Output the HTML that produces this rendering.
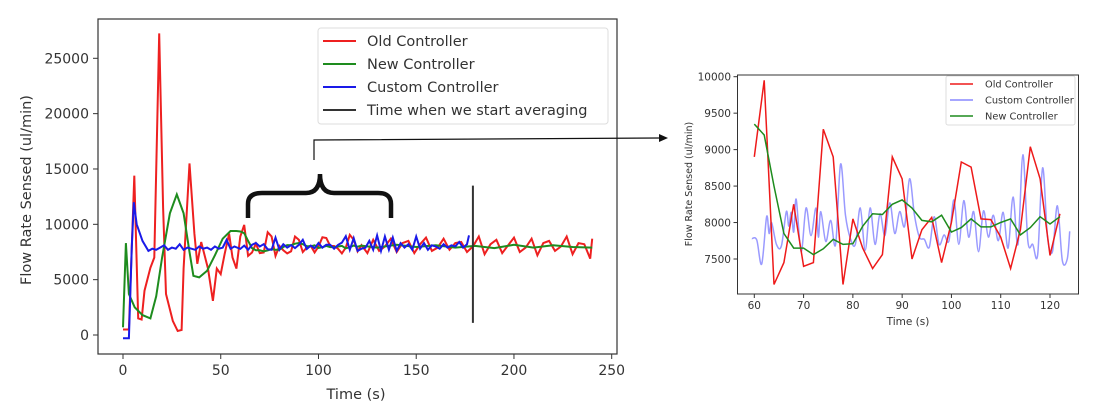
<!DOCTYPE html>
<html><head><meta charset="utf-8"><style>
html,body{margin:0;padding:0;background:#fff;width:1098px;height:413px;overflow:hidden}
svg{display:block;font-family:"DejaVu Sans","Liberation Sans",sans-serif}
</style></head><body>
<svg id="s" width="1098" height="413"></svg>
<script>
// ---- data: left chart ----
const oldT=[0,3,5.8,7.8,9.5,11,14,16,18.5,20.5,22,25.5,28,30,31,34,36.5,38,40,43.5,46,48,50,52,54.3,56,58,60,62,64,66,68,70,72,74,76,78,80,82,84,86,88,90,92,94,96,98,100,102,104,106,108,110,112,114,116,118,120,122,125,128,131,134,137,140,143,146,149,152,155,158,161,164,167,170,173,176,179,182,185,188,191,194,197,200,203,206,209,212,215,218,221,224,227,230,233,236,239,240];
const oldV=[500,500,14400,1500,1400,4000,6070,7000,27250,11500,3700,1270,360,450,6000,15500,9150,6430,8400,6000,3080,6000,5500,7300,9150,7000,6000,8900,9950,7150,7450,8250,7400,7450,9280,8900,7150,8050,7650,7370,7560,8900,8600,7500,7900,8070,7450,8000,8830,8760,8050,8040,7800,7370,7900,9040,8600,7550,8120,7400,8600,7600,8000,8700,7500,8300,8500,7400,8200,8800,7600,7900,8700,7700,8300,8400,7500,8000,8900,7300,8200,8600,7400,8100,8800,7500,7900,8700,7200,8300,8500,7600,8000,8900,7300,8300,8200,6900,8700];
const newT=[0,1.5,3,6,10,14,17,20,24,27.5,31,34,36,39,43,47,51,55,58,60,62,64,66,68,70,72,74,76,78,80,82,84,86,88,90,92,94,96,98,100,102,104,106,108,110,112,114,116,118,120,122,130,140,150,160,170,180,190,200,210,220,230,240];
const newV=[700,8300,3700,2500,1800,1500,3500,7000,11000,12700,11000,7500,5350,5200,5800,7200,8700,9400,9400,9350,9200,8500,7850,7650,7650,7560,7640,7770,7700,7710,7950,8120,8110,8250,8310,8200,8030,8010,8100,7870,7930,8050,7940,7940,8000,8050,7830,7930,8080,7980,8080,7900,8150,7950,8100,7900,8050,7850,8150,7900,8100,7950,7900];
const custT=[0,3,4.5,5.5,7,10,13,15,17,19,21,23,25,27,29,31,33,35,37,39,41,43,45,47,49,51,53,55,57,60,62,64,66,68,70,72,74,76,78,80,82,84,86,88,90,92,94,96,98,100,102,104,106,108,110,112,114,116,118,120,122,124,126,128,130,132,134,136,138,140,142,144,146,148,150,152,154,156,158,160,162,164,166,168,170,172,174,176,177];
const custV=[-300,-300,8000,12000,10000,8500,7600,7800,7700,7900,8100,7700,7900,7800,8200,7700,7900,7800,7700,8000,7800,7900,7700,8000,7800,7900,8600,7800,8000,7780,8080,7700,8150,8320,8000,8200,7740,7700,8800,7700,8200,7900,8120,7850,8150,8600,7770,8080,7830,8310,7900,8150,8160,7800,8140,8350,8930,7700,8750,7600,7800,7880,8500,7700,9000,7600,8900,7700,8800,7600,8300,7900,8200,7700,8900,7800,8300,7700,8100,8000,7800,8200,7900,8100,8000,8400,7900,8200,9000];
const leftXTicks=[0,50,100,150,200,250];
const leftYTicks=[0,5000,10000,15000,20000,25000];
// ---- data: right (zoom) chart ----
const zT=[60,62,64,66,68,70,72,74,76,78,80,82,84,86,88,90,92,94,96,98,100,102,104,106,108,110,112,114,116,118,120,122];
const zOld=[8900,9950,7150,7450,8250,7400,7450,9280,8900,7150,8050,7650,7370,7560,8900,8600,7500,7900,8070,7450,8000,8830,8760,8050,8040,7800,7370,7900,9040,8600,7550,8120];
const zNew=[9350,9200,8500,7850,7650,7650,7560,7640,7770,7700,7710,7950,8120,8110,8250,8310,8200,8030,8010,8100,7870,7930,8050,7940,7940,8000,8050,7830,7930,8080,7980,8080];
const zCustT=[59.5,60.5,61.5,62.5,63,63.5,64.5,65.5,66.5,67,67.5,68,68.5,69.5,70.5,71.5,72.5,73,73.5,74.5,75.5,76.5,77.5,78.5,79.5,80.5,81.5,82.5,83.5,84.5,85.5,86.5,87.5,88.5,89.5,90.5,91.5,92.5,93.5,94.5,95.5,96.5,97.5,98.5,99.5,100.5,101.5,102.5,103.5,104.5,105.5,106.5,107.5,108.5,109.5,110.5,111.5,112.5,113.5,114.5,115.5,116.5,117.5,118.5,119.5,120.5,121.5,122.5,123.5,124];
const zCustV=[7780,7760,7430,8080,7850,8000,7700,7680,8150,7950,8140,7870,8320,7600,8200,7820,8200,7800,8150,7740,8030,7700,8800,8100,7780,7700,8200,7620,8200,7700,8120,7820,8270,7850,8150,7950,8600,8100,7800,7770,7660,8080,7700,7830,7750,8310,7700,8300,7800,8150,7600,8160,7800,8100,7750,8140,7650,8350,7700,8930,7750,7700,7560,8750,7800,7600,8230,7480,7500,7880];
const zXTicks=[60,70,80,90,100,110,120];
const zYTicks=[7500,8000,8500,9000,9500,10000];

const NS='http://www.w3.org/2000/svg';const s=document.getElementById('s');
function mk(tag,at,parent){const e=document.createElementNS(NS,tag);for(const k in at)e.setAttribute(k,at[k]);(parent||s).appendChild(e);return e;}
function txt(str,at,parent){const e=mk('text',at,parent);e.textContent=str;return e;}
function poly(T,V,fx,fy){return T.map((t,i)=>fx(t).toFixed(1)+','+fy(V[i]).toFixed(1)).join(' ');}
function smooth(T,V,fx,fy){const p=T.map((t,i)=>[fx(t),fy(V[i])]);let d='M'+p[0][0]+','+p[0][1];for(let i=0;i<p.length-1;i++){const p0=p[i-1]||p[i],p1=p[i],p2=p[i+1],p3=p[i+2]||p2;d+=' C'+(p1[0]+(p2[0]-p0[0])/6)+','+(p1[1]+(p2[1]-p0[1])/6)+' '+(p2[0]-(p3[0]-p1[0])/6)+','+(p2[1]-(p3[1]-p1[1])/6)+' '+p2[0]+','+p2[1];}return d;}

// left axes
const lx=t=>123+t*(611.7-123)/250, ly=v=>335-v*(335-58.3)/25000;
const L=mk('g',{});

mk('rect',{x:98,y:19,width:519,height:335,fill:'none',stroke:'#333','stroke-width':1.2},L);
leftXTicks.forEach(t=>{const g=mk('g',{},L);mk('line',{x1:lx(t),x2:lx(t),y1:354,y2:359,stroke:'#333'},g);txt(t,{x:lx(t),y:375,'text-anchor':'middle','font-size':14,fill:'#333'},g);});
leftYTicks.forEach(v=>{const g=mk('g',{},L);mk('line',{x1:93,x2:98,y1:ly(v),y2:ly(v),stroke:'#333'},g);txt(v,{x:89,y:ly(v)+5,'text-anchor':'end','font-size':14,fill:'#333'},g);});
let e=txt('Time (s)',{x:356,y:399,'text-anchor':'middle','font-size':14.5,fill:'#333'},L);
e=txt('Flow Rate Sensed (ul/min)',{x:0,y:0,transform:'translate(31,190) rotate(-90)','text-anchor':'middle','font-size':14.5,fill:'#333'},L);
e=mk('polyline',{points:poly(oldT,oldV,lx,ly),fill:'none',stroke:'#ee2020','stroke-width':2},L);
e=mk('polyline',{points:poly(newT,newV,lx,ly),fill:'none',stroke:'#1e8c1e','stroke-width':2},L);
e=mk('polyline',{points:poly(custT,custV,lx,ly),fill:'none',stroke:'#1a1ae8','stroke-width':2},L);
e=mk('line',{x1:lx(179),x2:lx(179),y1:ly(13500),y2:ly(1100),stroke:'#333','stroke-width':2},L);
// legend
const lg=mk('g',{},L);
mk('rect',{x:318,y:28,width:290,height:96,fill:'#fff','fill-opacity':0.85,stroke:'#ddd',rx:3},lg);
[['Old Controller','#ee2020'],['New Controller','#1e8c1e'],['Custom Controller','#1a1ae8'],['Time when we start averaging','#333']].forEach((d,i)=>{const y=41+i*23;mk('line',{x1:323,x2:356,y1:y,y2:y,stroke:d[1],'stroke-width':2},lg);txt(d[0],{x:367,y:y+5,'font-size':14.5,fill:'#333'},lg);});
// brace + arrow
e=mk('path',{d:'M248,218 L248,204 Q248,193 262,193 L306,193 Q320,193 320,174 Q320,193 334,193 L378,193 Q391,193 391,204 L391,218',fill:'none',stroke:'#111','stroke-width':4.5},L);
e=mk('path',{d:'M314,160 L314,140 L660,138',fill:'none',stroke:'#111','stroke-width':1.2},L);
mk('path',{d:'M668,138 L659,134 L659,142 Z',fill:'#111'},L);

// right chart
const rx=t=>754.3+(t-60)*(1050-754.3)/60, ry=v=>259-(v-7500)*(259-76.7)/2500;
const R=mk('g',{});
mk('rect',{x:737.5,y:75,width:341,height:219,fill:'none',stroke:'#333','stroke-width':1},R);
zXTicks.forEach(t=>{const g=mk('g',{},R);mk('line',{x1:rx(t),x2:rx(t),y1:294,y2:298,stroke:'#333'},g);txt(t,{x:rx(t),y:309,'text-anchor':'middle','font-size':10.5,fill:'#333'},g);});
zYTicks.forEach(v=>{const g=mk('g',{},R);mk('line',{x1:733.5,x2:737.5,y1:ry(v),y2:ry(v),stroke:'#333'},g);txt(v,{x:731,y:ry(v)+4,'text-anchor':'end','font-size':10.5,fill:'#333'},g);});
e=txt('Time (s)',{x:908,y:325,'text-anchor':'middle','font-size':10.5,fill:'#333'},R);
e=txt('Flow Rate Sensed (ul/min)',{x:0,y:0,transform:'translate(692,184) rotate(-90)','text-anchor':'middle','font-size':9.5,fill:'#333'},R);
e=mk('path',{d:smooth(zCustT,zCustV,rx,ry),fill:'none',stroke:'#6f6fff','stroke-width':1.5,'stroke-opacity':0.7},R);
e=mk('polyline',{points:poly(zT,zOld,rx,ry),fill:'none',stroke:'#ee1a1a','stroke-width':1.5},R);
e=mk('polyline',{points:poly(zT,zNew,rx,ry),fill:'none',stroke:'#1e8c1e','stroke-width':1.5},R);
const rl=mk('g',{},R);
mk('rect',{x:946,y:76,width:129,height:49,fill:'#fff','fill-opacity':0.85,stroke:'#ddd',rx:2},rl);
[['Old Controller','#ee1a1a'],['Custom Controller','#8888ff'],['New Controller','#1e8c1e']].forEach((d,i)=>{const y=84+i*16;mk('line',{x1:950,x2:973,y1:y,y2:y,stroke:d[1],'stroke-width':1.5},rl);txt(d[0],{x:985,y:y+3.5,'font-size':9.8,fill:'#333'},rl);});
</script>
</body></html>
